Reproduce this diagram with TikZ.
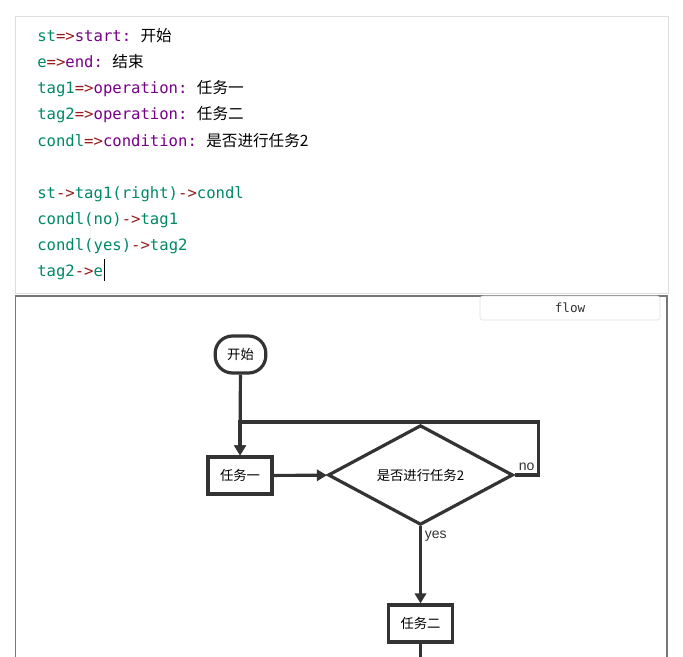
\documentclass[tikz,border=0pt]{standalone}
\usepackage{fontspec}
\setmainfont{Liberation Sans}
\setsansfont{Liberation Sans}
\setmonofont{DejaVu Sans Mono}
\newfontfamily\cjk{Noto Sans CJK SC}
\usetikzlibrary{shapes.geometric, arrows.meta}

\definecolor{codevarc}{HTML}{008866}
\definecolor{codeopc}{HTML}{981A1A}
\definecolor{codekwc}{HTML}{770088}
\definecolor{linec}{HTML}{333333}
\definecolor{framec}{HTML}{DDDDDD}
\definecolor{panelc}{HTML}{777777}

\newcommand{\codevar}[1]{\textcolor{codevarc}{#1}}
\newcommand{\codeop}[1]{\textcolor{codeopc}{#1}}
\newcommand{\codekw}[1]{\textcolor{codekwc}{#1}}

\tikzstyle{codeline} = [
    anchor=base west,
    inner sep=0pt,
    font=\fontsize{11.7pt}{14pt}\ttfamily
]
\tikzstyle{startstop} = [
    rectangle,
    rounded corners=13pt,
    minimum width=38pt,
    minimum height=27.75pt,
    line width=2.4pt,
    draw=linec,
    font=\fontsize{10pt}{12pt}\cjk
]
\tikzstyle{process} = [
    rectangle,
    minimum width=48pt,
    minimum height=27.75pt,
    line width=2.4pt,
    draw=linec,
    font=\fontsize{10pt}{12pt}\cjk
]
\tikzstyle{decision} = [
    diamond,
    inner sep=0pt,
    minimum width=138.75pt,
    minimum height=70.5pt,
    line width=2.4pt,
    draw=linec,
    font=\fontsize{10pt}{12pt}\cjk
]
\tikzstyle{arrow} = [line width=2.4pt, draw=linec, -{Triangle[length=7.5pt,width=8.5pt]}]
\tikzstyle{plain} = [line width=2.4pt, draw=linec]
\tikzstyle{edgelabel} = [font=\fontsize{10.5pt}{12pt}\sffamily, text=linec, inner sep=2pt]

\begin{document}
\begin{tikzpicture}[x=0.75pt, y=-0.75pt]
\useasboundingbox (0,0) rectangle (683,657);

% editor
\draw [framec, line width=0.75pt] (15,16) rectangle (668,293);

\node (l1) [codeline] at (37,41) {\codevar{st}\codeop{=>}\codekw{start:} {\cjk 开始}};
\node (l2) [codeline] at (37,67) {\codevar{e}\codeop{=>}\codekw{end:} {\cjk 结束}};
\node (l3) [codeline] at (37,93) {\codevar{tag1}\codeop{=>}\codekw{operation:} {\cjk 任务一}};
\node (l4) [codeline] at (37,119.5) {\codevar{tag2}\codeop{=>}\codekw{operation:} {\cjk 任务二}};
\node (l5) [codeline] at (37,146) {\codevar{condl}\codeop{=>}\codekw{condition:} {\cjk 是否进行任务2}};
\node (l6) [codeline] at (37,198) {\codevar{st}\codeop{->}\codevar{tag1(right)}\codeop{->}\codevar{condl}};
\node (l7) [codeline] at (37,224) {\codevar{condl(no)}\codeop{->}\codevar{tag1}};
\node (l8) [codeline] at (37,250) {\codevar{condl(yes)}\codeop{->}\codevar{tag2}};
\node (l9) [codeline] at (37,276.5) {\codevar{tag2}\codeop{->}\codevar{e}};
\draw [black, line width=0.75pt] (l9.base east) ++(1,4) -- ++(0,-22);

% preview panel
\draw [panelc, line width=1.1pt] (15.5,657) -- (15.5,296) -- (667,296) -- (667,657);
\node (tab) [draw=framec, fill=white, rounded corners=2pt, minimum width=135pt,
    minimum height=18pt, font=\fontsize{9.5pt}{11pt}\ttfamily, text=linec] at (570,308) {flow};

% flowchart
\node (start) [startstop] at (240.5,354.5) {开始};
\node (tag1) [process] at (240,475.5) {任务一};
\node (condl) [decision] at (420.5,475) {是否进行任务2};
\node (tag2) [process] at (420.5,623.5) {任务二};

\coordinate (loopR) at (538.5,475);
\coordinate (loopT) at (240,422);
\coordinate (tail) at (420.5,660);

\draw [arrow] (start) -- (tag1);
\draw [arrow] (tag1) -- (condl);
\draw [arrow] (condl.east) -- node (nolab) [edgelabel, above] {no} (loopR) |- (loopT) -- (tag1.north);
\draw [arrow] (condl.south) -- node (yeslab) [edgelabel, right, pos=0.12] {yes} (tag2.north);
\draw [plain] (tag2.south) -- (tail);

\end{tikzpicture}
\end{document}
